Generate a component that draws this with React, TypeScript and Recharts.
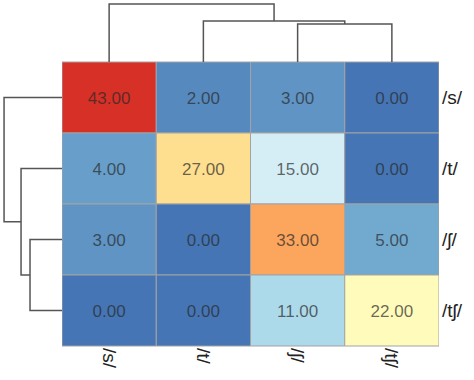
import { Bar, BarChart, Cell, LabelList, Scatter, ScatterChart, XAxis, YAxis } from "recharts";

// confusion counts, rows = presented, cols = perceived
const ROW_LABELS = ["/s/", "/t/", "/ʃ/", "/tʃ/"];
const COL_LABELS = ["/s/", "/t/", "/ʃ/", "/tʃ/"];
const rowS = [43, 2, 3, 0];
const rowT = [4, 27, 15, 0];
const rowSh = [3, 0, 33, 5];
const rowTsh = [0, 0, 11, 22];
const COUNTS = [rowS, rowT, rowSh, rowTsh];

// linkage: [childA, childB, height]; ids >= 4 are earlier merges
const COL_LINKAGE: [number, number, number][] = [
  [2, 3, 32.3],
  [1, 4, 34.8],
  [0, 5, 49.3],
];
const ROW_LINKAGE: [number, number, number][] = [
  [2, 3, 27.1],
  [1, 4, 34.7],
  [0, 5, 49.1],
];

const VMAX = 43;
const PALETTE = ["#4575b4", "#74add1", "#abd9e9", "#e0f3f8", "#ffffbf", "#fee090", "#fdae61", "#f46d43", "#d73027"];

const FONT = "'Liberation Sans', Arial, sans-serif";
const LINE = { stroke: "#555", strokeWidth: 1.5 };

function hex(c: string) {
  return [1, 3, 5].map((i) => parseInt(c.slice(i, i + 2), 16));
}

function colorFor(v: number) {
  const t = Math.max(0, Math.min(1, v / VMAX)) * (PALETTE.length - 1);
  const i = Math.min(Math.floor(t), PALETTE.length - 2);
  const f = t - i;
  const a = hex(PALETTE[i]);
  const b = hex(PALETTE[i + 1]);
  const rgb = a.map((x, k) => Math.round(x + (b[k] - x) * f));
  return `rgb(${rgb.join(",")})`;
}

function dendroLinks(linkage: [number, number, number][], n: number) {
  const pos = Array.from({ length: n }, (_, i) => i + 0.5);
  const ht = Array.from({ length: n }, () => 0);
  return linkage.map(([a, b, h]) => {
    const pts = [
      { p: pos[a], h: ht[a] },
      { p: pos[a], h },
      { p: pos[b], h },
      { p: pos[b], h: ht[b] },
    ];
    pos.push((pos[a] + pos[b]) / 2);
    ht.push(h);
    return pts;
  });
}

const colLinks = dendroLinks(COL_LINKAGE, COL_LABELS.length);
const rowLinks = dendroLinks(ROW_LINKAGE, ROW_LABELS.length);
const colTop = Math.max(...COL_LINKAGE.map((l) => l[2])) * 1.07;
const rowTop = Math.max(...ROW_LINKAGE.map((l) => l[2])) * 1.07;

const tableData = COUNTS.map((row, i) => {
  const r: Record<string, string | number> = { label: ROW_LABELS[i] };
  row.forEach((v, j) => {
    r[`u${j}`] = 1;
    r[`v${j}`] = v;
  });
  return r;
});

const noDot = () => <g />;

function ColTick({ x, y, payload }: any) {
  const idx = Math.round(payload.value - 0.5);
  return (
    <text
      x={x}
      y={y}
      transform={`rotate(90 ${x} ${y})`}
      textAnchor="start"
      dominantBaseline="central"
      fontSize={19}
      fill="#222"
      fontFamily={FONT}
    >
      {COL_LABELS[idx]}
    </text>
  );
}

export default function App() {
  return (
    <div style={{ position: "absolute", left: 0, top: 0, width: 474, height: 380, background: "#fff", fontFamily: FONT }}>
      <div style={{ position: "absolute", left: 0, top: 0 }}>
        <BarChart
          width={474}
          height={380}
          data={tableData}
          layout="vertical"
          barCategoryGap={0}
          barGap={0}
          margin={{ top: 62, right: 0, bottom: 0, left: 62 }}
        >
          <XAxis
            type="number"
            domain={[0, 4]}
            ticks={[0.5, 1.5, 2.5, 3.5]}
            interval={0}
            allowDataOverflow
            height={34}
            axisLine={false}
            tickLine={false}
            tickSize={0}
            tickMargin={2}
            tick={<ColTick />}
          />
          <YAxis
            type="category"
            dataKey="label"
            orientation="right"
            width={35}
            axisLine={false}
            tickLine={false}
            tickSize={0}
            tickMargin={3}
            tick={{ fill: "#222", fontSize: 19 }}
          />
          {COL_LABELS.map((_, j) => (
            <Bar key={j} dataKey={`u${j}`} stackId="m" stroke="#a3a3a3" strokeWidth={1} isAnimationActive={false}>
              {COUNTS.map((row, i) => (
                <Cell key={i} fill={colorFor(row[j])} />
              ))}
              <LabelList
                dataKey={`v${j}`}
                position="center"
                formatter={(v: any) => Number(v).toFixed(2)}
                fill="rgba(40,40,40,0.7)"
                fontSize={17}
              />
            </Bar>
          ))}
        </BarChart>
      </div>

      {/* column dendrogram */}
      <div style={{ position: "absolute", left: 0, top: 0 }}>
        <ScatterChart width={474} height={62} margin={{ top: 0, right: 35, bottom: 0, left: 62 }}>
          <XAxis type="number" dataKey="p" domain={[0, 4]} allowDataOverflow hide />
          <YAxis type="number" dataKey="h" domain={[0, colTop]} allowDataOverflow hide />
          {colLinks.map((pts, k) => (
            <Scatter key={k} data={pts} line={LINE} shape={noDot} isAnimationActive={false} />
          ))}
        </ScatterChart>
      </div>

      {/* row dendrogram */}
      <div style={{ position: "absolute", left: 0, top: 0 }}>
        <ScatterChart width={62} height={380} margin={{ top: 62, right: 0, bottom: 34, left: 0 }}>
          <XAxis type="number" dataKey="h" domain={[0, rowTop]} reversed allowDataOverflow hide />
          <YAxis type="number" dataKey="p" domain={[0, 4]} reversed allowDataOverflow hide />
          {rowLinks.map((pts, k) => (
            <Scatter key={k} data={pts} line={LINE} shape={noDot} isAnimationActive={false} />
          ))}
        </ScatterChart>
      </div>
    </div>
  );
}
